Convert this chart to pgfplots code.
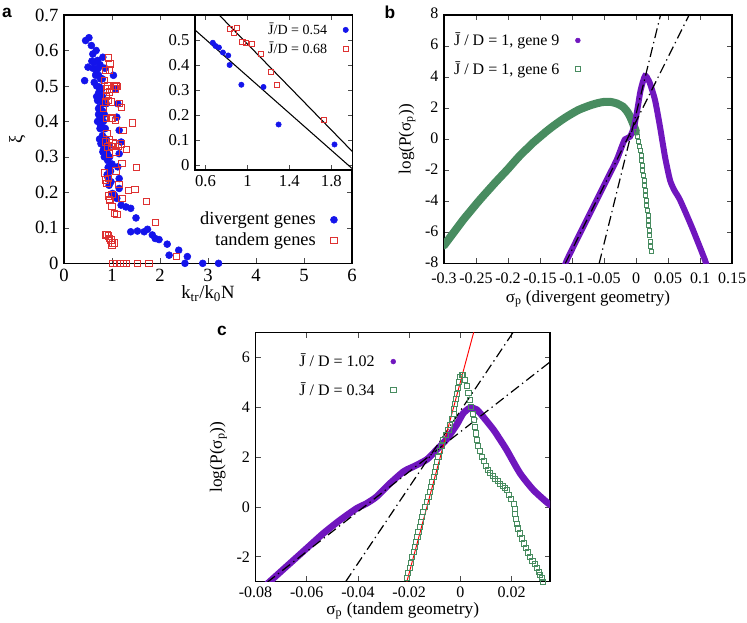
\documentclass[border=0pt]{standalone}
\usepackage{fontspec}
\setmainfont{Liberation Serif}
\newfontfamily\panelfont{Liberation Sans}
\usepackage{pgfplots}
\pgfplotsset{compat=1.18}
\definecolor{myblue}{RGB}{20,20,235}
\definecolor{myred}{RGB}{222,50,50}
\definecolor{mypurple}{RGB}{112,22,190}
\definecolor{mygreen}{RGB}{72,140,96}
\pgfplotsset{
  gp/.style={scale only axis, anchor=south west, tick align=inside,
    major tick length=4pt, minor tick num=0,
    axis line style={line width=0.8pt},
    tick style={line width=0.5pt, black!70},
    scaled ticks=false,
    /pgf/number format/assume math mode=true,
    legend cell align=right, legend plot pos=right,
    legend style={draw=none, fill=none, inner sep=1pt, row sep=3pt, column sep=7pt},
  },
  dd/.style={black, line width=0.9pt, dash pattern=on 7.5pt off 3pt on 1pt off 3pt, forget plot},
}
\begin{document}
\fontsize{12}{14.4}\selectfont
\begin{tikzpicture}
\path[use as bounding box] (0pt,0pt) rectangle (560.25pt,-467.25pt);

% ---------------- panel a ----------------
\begin{axis}[gp, at={(48pt,-197.5pt)}, width=216pt, height=186.25pt,
  xmin=0, xmax=6, ymin=0, ymax=0.7, clip=false,
  xtick={0,1,2,3,4,5,6}, xticklabels={0,1,2,3,4,5,6},
  ytick={0,0.1,0.2,0.3,0.4,0.5,0.6,0.7},
  yticklabels={0,0.1,0.2,0.3,0.4,0.5,0.6,0.7},
  tick label style={font=\fontsize{14}{16}\selectfont},
  label style={font=\fontsize{14}{16}\selectfont},
  xlabel={k\textsubscript{tr}/k\textsubscript{0}N},
  ylabel={ξ},
  xlabel style={yshift=5pt},
  ylabel style={yshift=-1pt},
  legend style={at={(0.955,0.045)}, anchor=south east, row sep=0pt, column sep=9pt,
    font=\fontsize{13.8}{16}\selectfont},
]
\addplot[only marks, mark=*, mark size=2.6pt, color=myblue] coordinates {
(0.43,0.515) (0.45,0.628) (0.52,0.636) (0.57,0.614) (0.50,0.553) (0.60,0.59)
(0.67,0.60) (0.63,0.567) (0.70,0.572) (0.81,0.581) (0.63,0.51) (0.67,0.534)
(0.70,0.548) (0.74,0.497) (0.70,0.459) (0.72,0.436) (0.75,0.412) (0.77,0.403)
(0.75,0.38) (0.84,0.38) (0.77,0.337) (0.84,0.337) (0.81,0.314) (0.88,0.314)
(0.91,0.29) (0.94,0.272) (0.91,0.244) (0.98,0.23) (1.01,0.197) (1.05,0.192)
(1.10,0.183) (1.15,0.211) (1.15,0.239) (1.12,0.272) (1.15,0.309) (1.19,0.342)
(1.15,0.375) (1.10,0.412) (1.12,0.45) (1.03,0.53) (1.07,0.492) (1.19,0.164)
(1.29,0.159) (1.39,0.155) (1.50,0.128) (1.39,0.089) (1.53,0.091) (1.67,0.089)
(1.74,0.096) (1.84,0.08) (1.90,0.07) (1.98,0.067) (2.15,0.054) (2.19,0.023)
(2.39,0.037) (2.57,0.019) (2.52,0.0) (2.89,0.0) (3.22,0.0)
(0.70,0.55) (0.72,0.53) (0.76,0.52) (0.68,0.50) (0.78,0.49) (0.80,0.47)
(0.72,0.48) (0.76,0.46) (0.74,0.44) (0.80,0.43) (0.72,0.42) (0.78,0.41)
(0.70,0.40) (0.82,0.40) (0.76,0.39) (0.86,0.38) (0.80,0.36) (0.74,0.35)
(0.78,0.34) (0.86,0.33) (0.88,0.35) (0.82,0.32) (0.90,0.31) (0.84,0.30)
(0.92,0.27) (0.90,0.25) (0.94,0.22) (0.97,0.26) (0.66,0.53) (0.60,0.55)
(0.58,0.57) (0.85,0.55) (0.80,0.52) (0.75,0.56) (0.68,0.47) (0.82,0.45)
(0.75,0.49) (0.84,0.42) (0.88,0.45) (0.93,0.33) (0.95,0.30) (1.00,0.28)
};
\addlegendentry{divergent genes}
\addplot[only marks, mark=square, mark size=2.4pt, color=myred, mark options={line width=0.6pt}] coordinates {
(0.92,0.579) (0.96,0.562) (0.94,0.545) (0.86,0.544) (0.84,0.515) (0.89,0.492)
(1.00,0.492) (1.07,0.492) (1.10,0.499) (0.94,0.483) (0.86,0.455) (0.98,0.455)
(1.15,0.45) (1.19,0.439) (0.82,0.436) (0.88,0.408) (0.98,0.408) (1.07,0.403)
(1.43,0.396) (1.23,0.375) (0.89,0.366) (0.86,0.342) (1.07,0.337) (1.19,0.337)
(1.30,0.321) (0.91,0.328) (1.08,0.314) (0.94,0.309) (1.21,0.281) (1.51,0.27)
(0.84,0.255) (1.08,0.26) (0.93,0.239) (0.89,0.225) (1.14,0.222) (1.00,0.195)
(0.96,0.178) (1.34,0.206) (1.48,0.208) (1.21,0.183) (1.72,0.175) (1.05,0.141)
(1.10,0.138) (1.91,0.115) (0.89,0.082) (0.93,0.077) (0.98,0.066) (1.01,0.058)
(1.00,0.052) (1.05,0.058) (0.86,0.08) (0.95,0.07) (2.34,0.019)
(1.02,0) (1.10,0) (1.17,0) (1.24,0) (1.30,0) (1.53,0) (1.77,0)
(0.90,0.50) (1.05,0.50) (0.88,0.47) (0.92,0.46) (1.00,0.41) (0.95,0.35)
(1.00,0.33) (1.12,0.33) (1.02,0.34) (0.86,0.235) (0.95,0.18) (1.00,0.16)
(0.92,0.19) (1.08,0.50)
};
\addlegendentry{tandem genes}
\end{axis}

% ---------------- inset ----------------
\begin{axis}[gp, at={(146.25pt,-127.5pt)}, width=118pt, height=116.25pt,
  xmin=0.5, xmax=2.0, ymin=-0.02, ymax=0.6,
  axis background/.style={fill=white},
  xtick={0.6,1,1.4,1.8}, xticklabels={0.6,1,1.4,1.8},
  ytick={0,0.1,0.2,0.3,0.4,0.5}, yticklabels={0,0.1,0.2,0.3,0.4,0.5},
  tick label style={font=\fontsize{12.5}{14}\selectfont},
  major tick length=3.5pt,
  legend style={at={(0.985,0.975)}, anchor=north east, row sep=0pt, column sep=10pt,
    font=\fontsize{10.5}{12}\selectfont},
]
\addplot[only marks, mark=*, mark size=2pt, color=myblue] coordinates {
(0.67,0.489) (0.696,0.476) (0.728,0.47) (0.766,0.45) (0.817,0.438) (0.83,0.40)
(0.942,0.321) (1.153,0.312) (1.297,0.162) (1.83,0.082)
};
\addlegendentry{J̄/D = 0.54}
\addplot[only marks, mark=square, mark size=1.9pt, color=myred, mark options={line width=0.5pt}] coordinates {
(0.83,0.544) (0.903,0.548) (0.872,0.527) (0.951,0.492) (0.984,0.489) (1.041,0.486)
(1.128,0.443) (1.224,0.374) (1.281,0.321) (1.726,0.179)
};
\addlegendentry{J̄/D = 0.68}
\addplot[black, line width=0.8pt, forget plot] coordinates {(0.5,0.54) (2.0,-0.015)};
\addplot[black, line width=0.8pt, forget plot] coordinates {(0.5,0.699) (2.0,0.054)};
\end{axis}

% ---------------- panel b ----------------
\begin{axis}[gp, at={(333pt,-197.5pt)}, width=216pt, height=186.25pt,
  xmin=-0.3, xmax=0.15, ymin=-8, ymax=8,
  xtick={-0.3,-0.25,-0.2,-0.15,-0.1,-0.05,0,0.05,0.1,0.15},
  xticklabels={-0.3,-0.25,-0.2,-0.15,-0.1,-0.05,0,0.05,0.1,0.15},
  xticklabel style={yshift=-3pt},
  yticklabel style={yshift=1pt},
  ytick={-8,-6,-4,-2,0,2,4,6,8}, yticklabels={-8,-6,-4,-2,0,2,4,6,8},
  label style={font=\fontsize{12.8}{15}\selectfont},
  xlabel={σ\textsubscript{p} (divergent geometry)},
  ylabel={log(P(σ\textsubscript{p}))},
  xlabel style={yshift=3pt},
  ylabel style={yshift=-1pt},
  legend style={at={(0.02,0.945)}, anchor=north west, row sep=6pt, column sep=10pt},
]
\addlegendimage{only marks, mark=*, mark size=1.8pt, color=mypurple}
\addlegendentry{J̄ / D = 1, gene 9}
\addlegendimage{only marks, mark=square, mark size=1.7pt, color=mygreen}
\addlegendentry{J̄ / D = 1, gene 6}
% gene 6 (dense part)
\addplot[mygreen, line width=6pt, smooth, line cap=round, forget plot] coordinates {
(-0.300,-6.85) (-0.290,-6.3) (-0.280,-5.75) (-0.270,-5.2) (-0.260,-4.7) (-0.250,-4.2)
(-0.240,-3.72) (-0.230,-3.26) (-0.220,-2.8) (-0.210,-2.36) (-0.200,-1.92) (-0.190,-1.45)
(-0.180,-1.0) (-0.170,-0.6) (-0.160,-0.2) (-0.150,0.15) (-0.140,0.5) (-0.130,0.82)
(-0.120,1.12) (-0.110,1.4) (-0.100,1.65) (-0.090,1.88) (-0.080,2.05) (-0.070,2.2)
(-0.060,2.32) (-0.050,2.4) (-0.040,2.4) (-0.030,2.3) (-0.020,2.08) (-0.015,1.85)
(-0.010,1.52) (-0.005,1.05) (0.000,0.48)
};
% gene 6 (tail)
\addplot[only marks, mark=square, mark size=1.5pt, color=mygreen, mark options={line width=0.5pt}, forget plot] coordinates {
(0.0,0.48) (0.0018,0.15) (0.0036,-0.16) (0.005,-0.43) (0.0063,-0.70) (0.0076,-1.02)
(0.0089,-1.34) (0.0097,-1.66) (0.0104,-1.99) (0.0115,-2.31) (0.0125,-2.63) (0.0133,-2.95)
(0.0141,-3.28) (0.0149,-3.6) (0.0156,-3.92) (0.0167,-4.25) (0.0177,-4.57) (0.0185,-4.89)
(0.0193,-5.21) (0.0200,-5.53) (0.0208,-5.86) (0.0214,-6.2) (0.0219,-6.61) (0.0226,-6.93)
(0.0234,-7.25)
};
% gene 9
\addplot[mypurple, line width=4.5pt, smooth, tension=0.4, forget plot] coordinates {
(-0.112,-8.25) (-0.108,-7.79) (-0.0875,-6.07) (-0.0667,-4.35) (-0.0458,-2.63) (-0.0302,-1.34)
(-0.0223,-0.49) (-0.0172,-0.01) (-0.0094,0.16) (-0.0031,0.80) (0.002,1.88) (0.0073,3.17)
(0.0141,4.07) (0.0208,3.70) (0.0297,2.52) (0.0375,0.80) (0.0453,-1.13) (0.0531,-2.63)
(0.060,-3.3) (0.0688,-3.92) (0.0870,-5.64) (0.1078,-7.79) (0.111,-8.25)
};
\addplot[dd] coordinates {(-0.1105,-8) (0.083,8)};
\addplot[dd] coordinates {(-0.0575,-8) (0.0383,8)};
\end{axis}

% ---------------- panel c ----------------
\begin{axis}[gp, at={(191.6pt,-436.3pt)}, width=220.9pt, height=187.05pt,
  xmin=-0.08, xmax=0.035, ymin=-3, ymax=7,
  xtick={-0.08,-0.06,-0.04,-0.02,0,0.02},
  xticklabels={-0.08,-0.06,-0.04,-0.02,0,0.02},
  ytick={-2,0,2,4,6}, yticklabels={-2,0,2,4,6},
  label style={font=\fontsize{13}{15}\selectfont},
  xlabel={σ\textsubscript{p} (tandem geometry)},
  ylabel={log(P(σ\textsubscript{p}))},
  xlabel style={yshift=5pt},
  ylabel style={yshift=-1pt},
  legend style={at={(0.135,0.93)}, anchor=north west, row sep=6pt, column sep=10pt},
]
\addlegendimage{only marks, mark=*, mark size=1.8pt, color=mypurple}
\addlegendentry{J̄ / D = 1.02}
\addlegendimage{only marks, mark=square, mark size=1.9pt, color=mygreen}
\addlegendentry{J̄ / D = 0.34}
\addplot[mypurple, line width=5pt, smooth, tension=0.4, forget plot] coordinates {
(-0.0755,-3.1) (-0.0745,-3.0) (-0.0665,-2.26) (-0.060,-1.66) (-0.0535,-1.06) (-0.047,-0.53)
(-0.0405,-0.06) (-0.0366,0.14) (-0.0327,0.41) (-0.0275,0.94) (-0.0223,1.41) (-0.0197,1.55)
(-0.0184,1.61) (-0.0131,1.9) (-0.0092,2.3) (-0.0053,2.72) (-0.0014,3.3) (0.0011,3.75)
(0.0038,3.97) (0.0064,3.9) (0.0090,3.6) (0.0129,3.1) (0.0155,2.7) (0.0181,2.28)
(0.0233,1.35) (0.0285,0.68) (0.0343,0.14) (0.0360,0.05)
};
\addplot[dd] coordinates {(-0.0755,-3.03) (0.035,5.81)};
\addplot[dd] coordinates {(-0.0448,-3) (0.0206,7)};
\addplot[only marks, mark=square, mark size=1.9pt, color=mygreen, mark options={line width=0.5pt}, forget plot] coordinates {
(-0.0209,-2.86) (-0.0204,-2.65) (-0.0198,-2.44) (-0.0193,-2.23) (-0.0188,-2.02) (-0.0182,-1.81)
(-0.0177,-1.6) (-0.0173,-1.4) (-0.0168,-1.2) (-0.0164,-1.0) (-0.0160,-0.8) (-0.0155,-0.6)
(-0.0151,-0.39) (-0.0145,-0.19) (-0.0138,0.01) (-0.0132,0.21) (-0.0125,0.41) (-0.0120,0.61)
(-0.0115,0.81) (-0.0110,1.01) (-0.0105,1.21) (-0.0100,1.41) (-0.0096,1.61) (-0.0091,1.81)
(-0.0086,2.01) (-0.0080,2.23) (-0.0073,2.46) (-0.0067,2.68) (-0.0057,2.88) (-0.0047,3.08)
(-0.0040,3.3) (-0.0034,3.53) (-0.0027,3.75) (-0.0024,3.95) (-0.0021,4.15) (-0.0017,4.35)
(-0.0014,4.55) (-0.0010,4.78) (-0.0005,5.0) (-0.0001,5.22) (0.0005,5.29) (0.0011,5.29)
(0.0017,5.1) (0.0024,4.85) (0.0031,4.56) (0.0038,4.29) (0.0042,4.02) (0.0047,3.75)
(0.0051,3.48) (0.0055,3.22) (0.0060,2.95) (0.0064,2.68) (0.0070,2.45) (0.0076,2.23)
(0.0083,2.01) (0.0090,1.83) (0.0098,1.66) (0.0107,1.5) (0.0116,1.35) (0.0125,1.24)
(0.0135,1.14) (0.0145,1.04) (0.0155,0.94) (0.0164,0.86) (0.0173,0.77) (0.0181,0.68)
(0.0190,0.5) (0.0198,0.32) (0.0207,0.14) (0.0211,-0.06) (0.0214,-0.26) (0.0217,-0.46)
(0.0220,-0.66) (0.0226,-0.86) (0.0233,-1.06) (0.0240,-1.26) (0.0246,-1.46) (0.0255,-1.64)
(0.0263,-1.82) (0.0272,-2.0) (0.0281,-2.15) (0.0289,-2.3) (0.0298,-2.46) (0.0305,-2.6)
(0.0312,-2.73) (0.0318,-2.86) (0.0322,-3.0)
};
\addplot[red, line width=0.7pt, forget plot] coordinates {(-0.0209,-3) (0.0052,7)};
\end{axis}

\node[font=\panelfont\bfseries\fontsize{13}{15}\selectfont] at (5.25pt,-9.75pt) {a};
\node[font=\panelfont\bfseries\fontsize{13}{15}\selectfont] at (292.5pt,-9.4pt) {b};
\node[font=\panelfont\bfseries\fontsize{13}{15}\selectfont] at (166.5pt,-248.25pt) {c};
\end{tikzpicture}
\end{document}
